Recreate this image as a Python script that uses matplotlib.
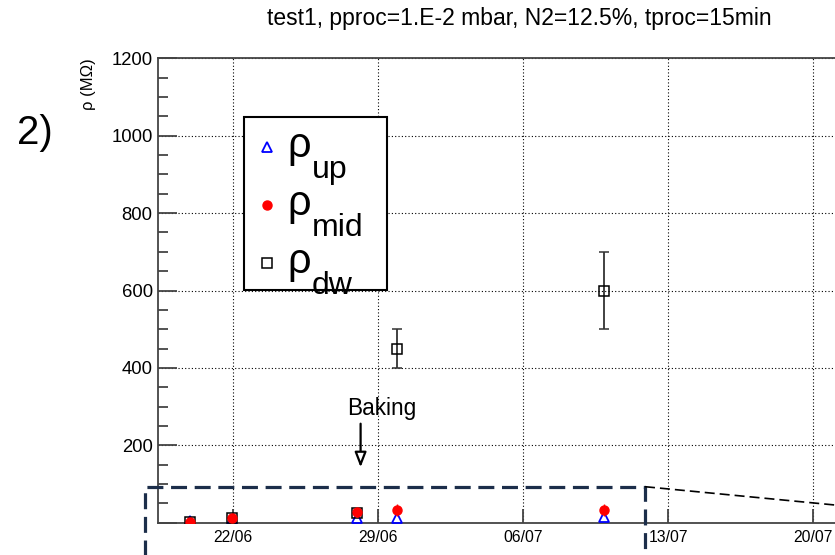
import matplotlib
matplotlib.use("Agg")
import matplotlib.pyplot as plt
import matplotlib.dates as mdates
from matplotlib.lines import Line2D
from matplotlib.patches import Rectangle
import numpy as np
import pandas as pd

plt.rcParams['font.family'] = ['Liberation Sans', 'DejaVu Sans']

# ---- data ----
dates = ["2015-06-19 22:00", "2015-06-21 23:00", "2015-06-27 23:00",
         "2015-06-29 22:00", "2015-07-09 21:00"]
rho_up = [4, 6, 11, 12, 14]
rho_mid = [3, 11, 27, 33, 33]
rho_mid_err = [0, 0, 12, 15, 15]
dw_dates = ["2015-06-19 22:00", "2015-06-21 23:00", "2015-06-27 23:00",
            "2015-06-29 22:00", "2015-07-09 21:00"]
rho_dw = [3, 11, 24, 450, 600]
rho_dw_err = [0, 0, 0, 50, 100]
tick_dates = ["2015-06-22", "2015-06-29", "2015-07-06", "2015-07-13", "2015-07-20"]
legend_subs = ["up", "mid", "dw"]
title = "test1, pproc=1.E-2 mbar, N2=12.5%, tproc=15min"

W, H = 835, 555
fig = plt.figure(figsize=(W / 100, H / 100), dpi=100)

# axes geometry in pixels
axL, axR, axT, axB = 158.3, 845.0, 58.3, 522.7
ax = fig.add_axes([axL / W, 1 - axB / H, (axR - axL) / W, (axB - axT) / H])

x = mdates.date2num(pd.to_datetime(dates))
xdw = mdates.date2num(pd.to_datetime(dw_dates))
ticks = mdates.date2num(pd.to_datetime(tick_dates))

px_per_day = (813.3 - 233.3) / (ticks[-1] - ticks[0])
x0 = ticks[0] - (233.3 - axL) / px_per_day
x1 = ticks[0] + (axR - 233.3) / px_per_day
ax.set_xlim(x0, x1)
ax.set_ylim(0, 1200)

spine_col = '#444444'
up_style = dict(linestyle='none', marker='^', ms=7, mfc='none', mec='blue', mew=1.3)
mid_style = dict(linestyle='none', marker='o', ms=6.5, mfc='red', mec='red')
dw_style = dict(linestyle='none', marker='s', ms=7.5, mfc='none', mec='black', mew=1.1)

ax.plot(x, rho_up, zorder=3, **up_style)
ax.errorbar(xdw, rho_dw, yerr=rho_dw_err, ecolor='#333333', elinewidth=1.3,
            capsize=3.5, capthick=1.3, zorder=4, **dw_style)
ax.errorbar(x, rho_mid, yerr=rho_mid_err, ecolor='red', elinewidth=1.0,
            capsize=0, zorder=5, **mid_style)

# axes styling
for s in ax.spines.values():
    s.set_color(spine_col)
    s.set_linewidth(1.3)
ax.set_xticks(ticks)
ax.xaxis.set_major_formatter(mdates.DateFormatter('%d/%m'))
ax.yaxis.set_major_locator(matplotlib.ticker.MultipleLocator(200))
ax.yaxis.set_minor_locator(matplotlib.ticker.MultipleLocator(50))
ax.yaxis.set_major_formatter(matplotlib.ticker.FuncFormatter(
    lambda v, p: '' if abs(v) < 1e-9 else f'{v:.0f}'))
ax.tick_params(axis='y', which='major', direction='in', length=14, width=1.3,
               color=spine_col, labelsize=13.3, pad=4)
ax.tick_params(axis='y', which='minor', direction='in', length=7.2, width=1.3,
               color=spine_col)
ax.tick_params(axis='x', which='major', direction='in', length=10, width=1.3,
               color=spine_col, labelsize=11.3, pad=5)
ax.grid(True, which='major', linestyle=(0, (1, 2)), color='black', linewidth=0.8)
ax.set_axisbelow(True)

# legend (drawn by hand to mimic the ROOT TLegend layout)
fig.patches.append(Rectangle((244 / W, 1 - 290 / H), (387 - 244) / W, (290 - 116.7) / H,
                             transform=fig.transFigure, facecolor='white',
                             edgecolor='black', linewidth=1.5, zorder=6))
for k, (sty, sub) in enumerate(zip([up_style, mid_style, dw_style], legend_subs)):
    ym = 146.7 + 58 * k
    fig.add_artist(Line2D([266.5 / W], [1 - ym / H], transform=fig.transFigure,
                          zorder=7, **sty))
    fig.text(287 / W, 1 - (156.7 + 58 * k) / H, 'ρ', ha='left', va='baseline',
             fontsize=30, zorder=7)
    fig.text(312 / W, 1 - (178.3 + 58 * k) / H, sub, ha='left', va='baseline',
             fontsize=23, zorder=7)

# Baking annotation
bx = ticks[1] - (377.7 - 360) / px_per_day
ax.annotate('', xy=(bx, 136), xytext=(bx, 263),
            arrowprops=dict(arrowstyle='-|>,head_length=0.9,head_width=0.35',
                            facecolor='white', edgecolor='black', lw=1.6))
ax.text(bx + (381 - 360) / px_per_day, 294, 'Baking', ha='center', va='center',
        fontsize=16.3)

# title, y label, panel tag
fig.text(519 / W, 1 - 18 / H, title, ha='center', va='center', fontsize=16.5)
fig.text(88 / W, 1 - 58 / H, 'ρ (MΩ)', rotation=90, ha='center', va='top',
         fontsize=12)
fig.text(35 / W, 1 - 133 / H, '2)', ha='center', va='center', fontsize=29)

# zoom-box decoration
navy = '#1c2e4a'
def fl(xs, ys, **kw):
    fig.add_artist(Line2D([v / W for v in xs], [1 - v / H for v in ys],
                          transform=fig.transFigure, **kw))
fl([145, 145, 645, 645], [560, 486.7, 486.7, 560], color=navy, lw=2.3,
   linestyle=(0, (5, 2.4)), solid_joinstyle='miter')
fl([645, 840], [486.7, 505.5], color='black', lw=1.2, linestyle=(0, (6, 3)))

fig.savefig('out.png', dpi=100)
